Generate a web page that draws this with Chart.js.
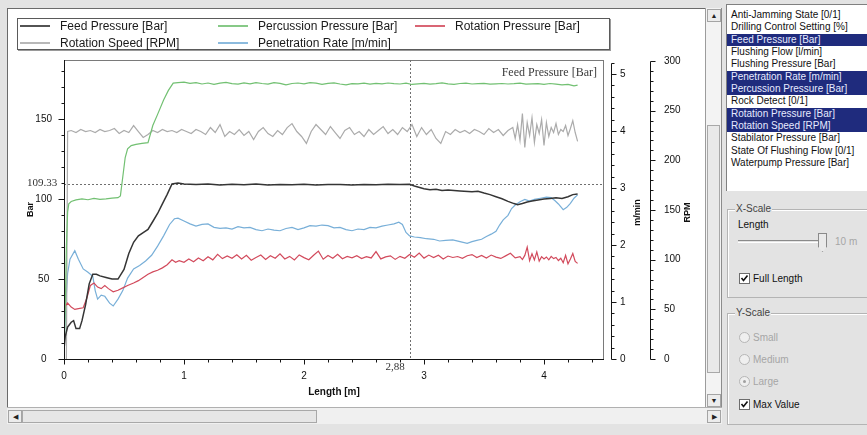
<!DOCTYPE html>
<html>
<head>
<meta charset="utf-8">
<script src="https://cdn.jsdelivr.net/npm/chart.js@4.4.1/dist/chart.umd.min.js"></script>
<style>
html,body{margin:0;padding:0}
body{width:867px;height:435px;background:#e3e3e3;position:relative;overflow:hidden;font-family:"Liberation Sans",Arial,sans-serif;color:#111}
#panel{position:absolute;left:7px;top:8px;width:698px;height:399px;background:#fff;border-left:1px solid #6a6a6a;border-top:1px solid #6a6a6a;box-sizing:border-box}
#c{position:absolute;left:0;top:0}
#legend{position:absolute;left:17px;top:18px;width:593px;height:32px;border:1px solid #5a5a5a;box-shadow:1px 1px 0 #9a9a9a;box-sizing:border-box;font-size:12px;color:#1a1a1a;background:#fff}
.lg{position:absolute;height:14px;line-height:14px;white-space:nowrap}
.lg i{position:absolute;left:0;top:6px;width:30px;height:2px;opacity:.85}
.lg span{position:absolute;left:40px;top:0}
.btn{position:absolute;width:14px;height:13px;background:#ececec;border:1px solid #a4a4a4;box-sizing:border-box;font-size:7px;line-height:11px;text-align:center;color:#222}
#vs{position:absolute;left:705px;top:8px;width:17px;height:399px;background:#f3f3f3;border-left:1px solid #9c9c9c;border-right:1px solid #8c8c8c;box-sizing:border-box}
#vthumb{position:absolute;left:1px;top:117px;width:13px;height:248px;background:#e9e9e9;border:1px solid #a8a8a8;box-sizing:border-box}
#hs{position:absolute;left:7px;top:407px;width:715px;height:17px;background:#f0f0f0;border-top:1px solid #b0b0b0;box-sizing:border-box}
#hthumb{position:absolute;left:15px;top:2px;width:295px;height:13px;background:#e6e6e6;border:1px solid #a8a8a8;box-sizing:border-box}
#list{position:absolute;left:726px;top:4px;width:141px;height:187px;background:#fff;border-left:1px solid #808080;border-top:1px solid #808080;box-sizing:border-box;padding-top:4px;font-size:10px}
.li{height:12.33px;line-height:12px;padding-left:4px;white-space:nowrap;color:#111}
.li.on{background:#1f2b7d;color:#e6eaff}
.grp{position:absolute;left:727px;width:150px;border:1px solid #b4b4b4;box-shadow:inset 1px 1px 0 #fff;box-sizing:border-box}
.grp .t{position:absolute;left:7px;top:-7px;background:#e3e3e3;padding:0 1px;font-size:10px;line-height:12px;color:#444}
.lab{position:absolute;font-size:10px;line-height:12px;white-space:nowrap}
.box{position:absolute;width:11px;height:11px;background:#fff;border:1px solid #6d6d6d;box-sizing:border-box}
.rad{position:absolute;width:11px;height:11px;border-radius:50%;background:#efefef;border:1px solid #b6b6b6;box-sizing:border-box}
.dis{color:#a6a6a6}
</style>
</head>
<body>
<div id="panel"></div>
<canvas id="c" width="705" height="407"></canvas>
<div id="legend"></div>

<div id="vs">
  <div class="btn" style="left:1px;top:1px">&#9650;</div>
  <div id="vthumb"></div>
  <div class="btn" style="left:1px;top:386px">&#9660;</div>
</div>
<div id="hs">
  <div class="btn" style="left:1px;top:2px">&#9664;</div>
  <div id="hthumb"></div>
  <div class="btn" style="left:700px;top:2px">&#9654;</div>
</div>

<div id="list">
  <div class="li">Anti-Jamming State [0/1]</div>
  <div class="li">Drilling Control Setting [%]</div>
  <div class="li on">Feed Pressure [Bar]</div>
  <div class="li">Flushing Flow [l/min]</div>
  <div class="li">Flushing Pressure [Bar]</div>
  <div class="li on">Penetration Rate [m/min]</div>
  <div class="li on">Percussion Pressure [Bar]</div>
  <div class="li">Rock Detect [0/1]</div>
  <div class="li on">Rotation Pressure [Bar]</div>
  <div class="li on">Rotation Speed [RPM]</div>
  <div class="li">Stabilator Pressure [Bar]</div>
  <div class="li">State Of Flushing Flow [0/1]</div>
  <div class="li">Waterpump Pressure [Bar]</div>
</div>

<div class="grp" style="top:209px;height:89px"><div class="t">X-Scale</div></div>
<div class="lab" style="left:738px;top:219px">Length</div>
<div style="position:absolute;left:738px;top:240px;width:84px;height:1px;border-top:1px solid #8a8a8a;border-bottom:1px solid #fff"></div>
<div style="position:absolute;left:818px;top:233px;width:9px;height:19px;background:#eaeaea;border:1px solid #8a8a8a;box-sizing:border-box;clip-path:polygon(0 0,100% 0,100% 72%,50% 100%,0 72%)"></div>
<div class="lab dis" style="left:835px;top:236px">10 m</div>
<div class="box" style="left:739px;top:273px"><svg width="9" height="9" style="position:absolute;left:0;top:0"><path d="M1.5 4 L3.5 6.5 L7.5 1.5" stroke="#111" stroke-width="1.6" fill="none"/></svg></div>
<div class="lab" style="left:753px;top:273px">Full Length</div>

<div class="grp" style="top:313px;height:112px"><div class="t">Y-Scale</div></div>
<div class="rad" style="left:739px;top:332px"></div>
<div class="lab dis" style="left:753px;top:332px">Small</div>
<div class="rad" style="left:739px;top:354px"></div>
<div class="lab dis" style="left:753px;top:354px">Medium</div>
<div class="rad" style="left:739px;top:376px"><div style="position:absolute;left:3px;top:3px;width:3px;height:3px;border-radius:50%;background:#a0a0a0"></div></div>
<div class="lab dis" style="left:753px;top:376px">Large</div>
<div class="box" style="left:739px;top:399px"><svg width="9" height="9" style="position:absolute;left:0;top:0"><path d="M1.5 4 L3.5 6.5 L7.5 1.5" stroke="#111" stroke-width="1.6" fill="none"/></svg></div>
<div class="lab" style="left:753px;top:399px">Max Value</div>

<script>
// ---- Drill log channels, sampled along hole length [m] ----
const feedLength = [0,0.01,0.03,0.06,0.08,0.10,0.13,0.15,0.18,0.21,0.24,0.27,0.30,0.35,0.40,0.45,0.50,0.54,0.58,0.62,0.66,0.70,0.74,0.78,0.82,0.86,0.90,0.95,1.0,1.1,1.2,1.3,1.4,1.5,1.6,1.7,1.8,1.9,2.0,2.1,2.2,2.3,2.4,2.5,2.6,2.7,2.8,2.88,2.92,3.0,3.05,3.1,3.15,3.2,3.3,3.4,3.45,3.5,3.55,3.6,3.65,3.7,3.75,3.78,3.82,3.86,3.9,3.95,4.0,4.05,4.1,4.15,4.2,4.24,4.28];
const feedPressure = [6,14,20,23,24,19,19,24,34,47,53,53,52,51,50,50,56,66,73,77,79,81,86,91,97,103,109.5,110,109.4,109.1,109.5,108.9,109.3,109.0,109.4,108.8,109.2,109.0,109.3,108.9,109.2,109.1,108.8,109.2,109.0,109.3,109.1,109.33,108.2,106.5,105.8,106.2,105.4,105.7,105.1,104.6,104.9,103.8,102.8,101.5,100.2,98.6,97.2,96.5,97.3,98.2,98.8,99.5,100.0,100.4,100.8,100.4,101.5,102.8,103.2];

const percLength = [0,0.01,0.02,0.03,0.04,0.06,0.10,0.15,0.20,0.25,0.30,0.35,0.40,0.45,0.47,0.49,0.51,0.53,0.56,0.60,0.65,0.70,0.74,0.78,0.83,0.87,0.91,0.95,
  1.00,1.05,1.10,1.15,1.20,1.25,1.30,1.35,1.40,1.45,1.50,1.55,1.60,1.65,1.70,1.75,1.80,1.85,1.90,1.95,2.00,2.05,2.10,2.15,2.20,2.25,2.30,2.35,2.40,2.45,2.50,2.55,2.60,2.65,2.70,2.75,2.80,2.85,2.90,2.95,3.00,3.05,3.10,3.15,3.20,3.25,3.30,3.35,3.40,3.45,3.50,3.55,3.60,3.65,3.70,3.75,3.80,3.85,3.90,3.95,4.00,4.05,4.10,4.15,4.20,4.25,4.28];
const percPressure = [0,30,70,92,97,98.5,99.5,100.2,99.6,100.4,99.8,100.1,100.6,100.9,102,114,126,131.5,133.5,134.2,134.8,135.3,146,153,162,168,172.5,172.8,
  173.1,172.4,172.9,172.0,172.6,171.8,172.5,173.0,172.2,171.9,172.7,172.1,172.9,172.3,171.9,172.8,172.4,171.5,172.3,172.6,172.1,172.9,172.5,171.8,172.4,172.7,172.0,171.4,172.2,172.1,172.5,171.9,172.4,172.1,172.6,172.2,172.0,172.5,171.7,172.1,172.4,171.9,172.2,172.7,172.1,171.8,172.3,172.5,172.0,172.2,172.4,171.9,172.1,172.3,172.0,172.2,172.5,171.9,172.1,172.2,171.8,172.3,171.9,171.4,171.8,170.8,171.3];

const rotPLength = [0,0.01,0.03,0.06,0.09,0.12,0.16,0.19,0.22,0.25,0.28,0.31,0.34,0.37,0.41,0.45,0.49,0.53,0.58,0.62,0.66,0.70,0.74,0.78,0.82,0.86,0.90,0.93,0.96,1.00,
  1.04,1.08,1.12,1.16,1.20,1.24,1.28,1.32,1.36,1.40,1.44,1.48,1.52,1.56,1.60,1.64,1.68,1.72,1.76,1.80,1.84,1.88,1.92,1.96,2.00,2.04,2.08,2.12,2.16,2.20,
  2.24,2.28,2.32,2.36,2.40,2.44,2.48,2.52,2.56,2.60,2.64,2.68,2.72,2.76,2.80,2.84,2.88,2.92,2.96,3.00,3.04,3.08,3.12,3.16,3.20,3.24,3.28,3.32,3.36,3.40,
  3.44,3.48,3.52,3.56,3.60,3.64,3.68,3.72,3.76,3.80,
  3.82,3.84,3.86,3.88,3.90,3.92,3.94,3.96,3.98,4.00,4.02,4.04,4.06,4.08,4.10,4.12,4.14,4.16,4.18,4.20,4.22,4.24,4.26,4.28];
const rotPressure = [28,33,35,32.5,31,31.5,32,38,46,47.5,45,44,46,44,42,43,44.5,46,47.5,49,51,53,54.5,55.5,57,59,62,60.5,61.5,60.5,
  62.5,60.8,63.2,61.5,64.0,62.0,65.5,62.8,64.5,63.0,65.2,62.5,64.8,61.8,63.5,65.0,62.2,64.6,63.0,65.8,62.6,64.2,61.9,65.1,63.4,62.1,64.9,67.5,62.4,64.7,
  63.0,65.5,62.7,64.1,63.3,64.6,62.8,64.0,63.2,67.2,62.6,63.9,64.5,62.3,64.2,63.0,65.4,63.6,66.2,63.1,65.0,63.4,64.9,62.6,64.4,63.5,64.1,63.0,64.6,65.3,
  63.4,64.8,63.1,65.0,63.7,62.9,64.5,66.1,63.2,64.0,
  62.2,64.8,70.0,61.5,65.8,62.0,67.0,61.2,64.0,62.6,63.8,62.0,64.2,62.8,63.5,61.6,63.0,60.2,64.8,59.5,62.5,66.0,61.0,59.8];

const rotSLength = [0.02,0.03,
  0.06,0.10,0.14,0.18,0.22,0.26,0.30,0.34,0.38,0.42,0.46,0.50,0.54,0.58,0.62,0.66,0.70,0.74,0.78,0.82,0.86,0.90,0.94,0.98,1.02,1.06,1.10,1.14,1.18,1.22,
  1.26,1.30,1.34,1.38,1.42,1.46,1.50,1.54,1.58,1.62,1.66,1.70,1.74,1.78,1.82,1.86,1.90,1.94,1.98,2.02,2.06,2.10,2.14,2.18,2.22,2.26,2.30,2.34,2.38,2.42,
  2.46,2.50,2.54,2.58,2.62,2.66,2.70,2.74,2.78,2.82,2.86,2.90,2.94,2.98,3.02,3.06,3.10,3.14,3.18,3.22,3.26,3.30,3.34,3.38,3.42,3.46,3.50,3.54,3.58,3.62,
  3.66,3.70,3.74,
  3.76,3.78,3.80,3.82,3.84,3.86,3.88,3.90,3.92,3.94,3.96,3.98,4.00,4.02,4.04,4.06,4.08,4.10,4.12,4.14,4.16,4.18,4.20,4.22,4.24,4.26,4.28];
const rotSpeed = [0,229,
  230,228,231,229,230,228,231,229,230,232,227,230,228,235,229,223,226,230,228,231,229,230,228,231,229,227,231,229,226,233,
  228,236,224,229,226,231,225,229,221,229,233,227,224,230,226,233,237,229,224,217,229,236,231,226,234,228,222,230,233,226,
  229,224,231,226,230,234,227,231,226,233,229,236,224,233,226,231,222,217,229,226,231,228,230,227,231,229,226,232,228,231,
  225,230,233,
  222,236,220,247,213,238,225,243,218,236,227,241,215,238,224,233,228,237,226,231,229,235,225,232,240,228,219];

const penLength = [0,0.01,0.03,0.05,0.09,0.12,0.16,0.20,0.24,0.26,0.28,0.31,0.34,0.38,0.41,0.45,0.49,0.53,0.58,0.63,0.68,0.73,0.78,0.83,0.88,0.92,0.95,
  1.00,1.05,1.10,1.15,1.20,1.25,1.30,1.35,1.40,1.45,1.50,1.55,1.60,1.65,1.70,1.75,1.80,1.85,1.90,1.95,2.00,2.05,2.10,2.15,2.20,2.25,2.30,2.35,2.40,2.45,
  2.50,2.55,2.60,2.65,2.70,2.75,2.79,2.82,2.85,2.88,2.92,2.97,3.02,3.08,3.13,3.18,3.24,3.30,3.36,3.40,3.44,3.48,3.52,3.56,3.60,3.63,3.66,3.70,3.73,3.76,
  3.80,3.84,3.88,3.92,3.97,4.02,4.06,4.09,4.12,4.16,4.19,4.22,4.25,4.28];
const penRate = [0.1,0.8,1.5,1.75,1.9,1.75,1.58,1.52,1.45,1.2,1.05,1.12,1.1,0.98,0.93,1.05,1.2,1.42,1.58,1.64,1.72,1.82,1.98,2.16,2.36,2.46,2.47,
  2.42,2.37,2.33,2.36,2.37,2.31,2.29,2.30,2.28,2.32,2.30,2.31,2.27,2.25,2.28,2.26,2.25,2.29,2.31,2.27,2.30,2.34,2.33,2.35,2.34,2.30,2.31,2.27,2.25,2.28,
  2.27,2.31,2.30,2.33,2.35,2.37,2.40,2.36,2.22,2.16,2.14,2.13,2.11,2.10,2.07,2.08,2.09,2.06,2.03,2.06,2.08,2.10,2.15,2.19,2.24,2.35,2.44,2.52,2.64,2.70,
  2.76,2.80,2.77,2.80,2.82,2.84,2.83,2.78,2.72,2.62,2.66,2.73,2.82,2.88];

// cursor position read-out
const cursorLength = 2.88;
const cursorBar = 109.33;

// axis labels (major ticks)
const lengthLabels = [0, 1, 2, 3, 4];
const barLabels = [0, 50, 100, 150];
const rateLabels = [0, 1, 2, 3, 4, 5];
const rpmLabels = [0, 50, 100, 150, 200, 250, 300];

const pts = (xs, ys) => xs.map((x, i) => ({x, y: ys[i]}));
const series = [
  {label: 'Feed Pressure [Bar]',       color: '#353535', width: 1.5, axis: 'y',  data: pts(feedLength, feedPressure)},
  {label: 'Percussion Pressure [Bar]', color: '#72c072', width: 1.2, axis: 'y',  data: pts(percLength, percPressure)},
  {label: 'Rotation Pressure [Bar]',   color: '#d24a5c', width: 1.2, axis: 'y',  data: pts(rotPLength, rotPressure)},
  {label: 'Rotation Speed [RPM]',      color: '#ababab', width: 1.2, axis: 'y2', data: pts(rotSLength, rotSpeed)},
  {label: 'Penetration Rate [m/min]',  color: '#78afd8', width: 1.2, axis: 'y1', data: pts(penLength, penRate)}
];

// legend box: three columns, two rows
const legend = document.getElementById('legend');
series.forEach((s, i) => {
  const el = document.createElement('div');
  el.className = 'lg';
  el.style.left = [2, 200, 397][i % 3] + 'px';
  el.style.top = (i < 3 ? 0 : 17) + 'px';
  el.innerHTML = '<i style="background:' + s.color + '"></i><span>' + s.label + '</span>';
  legend.appendChild(el);
});

function tickRange(lo, hi, step) {
  const out = [];
  for (let i = 0; lo + i * step <= hi + 1e-9; i++) out.push(+(lo + i * step).toFixed(4));
  return out;
}
const useTicks = values => scale => { scale.ticks = values.map(v => ({value: v})); };
const labelOnly = labels => v => labels.includes(v) ? String(v) : '';

const FONT = '"Liberation Sans", Arial, sans-serif';
Chart.defaults.font.family = FONT;
Chart.defaults.font.size = 10;
Chart.defaults.color = '#111';

const noGrid = {display: false, drawTicks: false, tickLength: 0};

// frame, cursor cross, axis lines with major/minor tick marks, read-out texts
const plotDecor = {
  id: 'plotDecor',
  beforeDatasetsDraw(chart) {
    const {ctx, chartArea: a, scales} = chart;
    ctx.save();
    ctx.strokeStyle = '#7a7a7a';
    ctx.lineWidth = 1;
    ctx.strokeRect(a.left + 0.5, a.top + 0.5, a.right - a.left - 1, a.bottom - a.top);
    ctx.setLineDash([2, 2]);
    ctx.strokeStyle = '#6f6f6f';
    const cy = Math.round(scales.y.getPixelForValue(cursorBar)) + 0.5;
    ctx.beginPath(); ctx.moveTo(a.left, cy); ctx.lineTo(a.right, cy); ctx.stroke();
    const cx = Math.round(scales.x.getPixelForValue(cursorLength)) + 0.5;
    ctx.beginPath(); ctx.moveTo(cx, a.top); ctx.lineTo(cx, a.bottom); ctx.stroke();
    ctx.restore();
  },
  afterDraw(chart) {
    const {ctx, chartArea: a, scales} = chart;
    ctx.save();
    ctx.strokeStyle = '#151515';
    ctx.lineWidth = 1;
    const marks = (s, fn) => s.ticks.forEach(t =>
      fn(Math.round(s.getPixelForValue(t.value)) + 0.5, t.label !== ''));
    ctx.beginPath();
    const xl = a.left + 0.5;
    ctx.moveTo(xl, a.top); ctx.lineTo(xl, a.bottom + 4);
    marks(scales.y, (p, major) => { ctx.moveTo(xl, p); ctx.lineTo(xl - (major ? 6 : 3), p); });
    const yb = a.bottom + 0.5;
    ctx.moveTo(a.left - 4, yb); ctx.lineTo(a.right, yb);
    marks(scales.x, (p, major) => { ctx.moveTo(p, yb); ctx.lineTo(p, yb + (major ? 5 : 3)); });
    [[scales.y1, 7], [scales.y2, 10]].forEach(([s, off]) => {
      const xr = s.left + off + 0.5;
      const top = Math.round(s.getPixelForValue(s.ticks[s.ticks.length - 1].value)) + 0.5;
      ctx.moveTo(xr, top); ctx.lineTo(xr, a.bottom + 0.5);
      marks(s, (p, major) => { ctx.moveTo(xr, p); ctx.lineTo(xr + (major ? 5 : 3), p); });
    });
    ctx.stroke();

    // right-hand axis titles, reading bottom to top
    ctx.fillStyle = '#111';
    ctx.font = 'bold 9px ' + FONT;
    ctx.textAlign = 'center';
    ctx.textBaseline = 'middle';
    const mid = (a.top + a.bottom) / 2;
    [[scales.y1, 34, 'm/min'], [scales.y2, 48, 'RPM']].forEach(([s, off, txt]) => {
      ctx.save();
      ctx.translate(s.left + off, mid + 3);
      ctx.rotate(-Math.PI / 2);
      ctx.fillText(txt, 0, 0);
      ctx.restore();
    });

    // cursor read-outs and active channel name
    const serif = '"Liberation Serif", "Times New Roman", serif';
    ctx.fillStyle = '#333';
    ctx.font = '11px ' + serif;
    const cy = Math.round(scales.y.getPixelForValue(cursorBar));
    ctx.fillText(cursorBar.toFixed(2), 42, cy - 1);
    const cx = Math.round(scales.x.getPixelForValue(cursorLength));
    ctx.fillText(cursorLength.toFixed(2).replace('.', ','), cx - 15, a.bottom + 8);
    ctx.font = '12px ' + serif;
    ctx.textAlign = 'right';
    ctx.fillStyle = '#3a3a3a';
    ctx.fillText(series[0].label, a.right - 7, a.top + 13);
    ctx.restore();
  }
};

new Chart(document.getElementById('c'), {
  type: 'line',
  data: {
    datasets: series.map(s => ({
      label: s.label,
      data: s.data,
      yAxisID: s.axis,
      borderColor: s.color,
      borderWidth: s.width,
      pointRadius: 0,
      tension: 0,
      fill: false
    }))
  },
  options: {
    responsive: false,
    animation: false,
    events: [],
    layout: {padding: {top: 60, left: 0, right: 0, bottom: 0}},
    plugins: {legend: {display: false}, tooltip: {enabled: false}},
    scales: {
      x: {
        type: 'linear', position: 'bottom', min: 0, max: 4.5,
        afterFit: s => { s.height = 48; },
        afterBuildTicks: useTicks(tickRange(0, 4.4, 0.2)),
        grid: noGrid, border: {display: false},
        ticks: {autoSkip: false, maxRotation: 0, minRotation: 0, padding: 11, callback: labelOnly(lengthLabels)},
        title: {display: true, text: 'Length [m]', font: {size: 10, weight: 'bold'}, padding: {top: 0, bottom: 9}}
      },
      y: {
        type: 'linear', position: 'left', min: 0, max: 187,
        afterFit: s => { s.width = 64; },
        afterBuildTicks: useTicks(tickRange(0, 180, 10)),
        grid: noGrid, border: {display: false},
        ticks: {autoSkip: false, crossAlign: 'center', padding: 12, callback: labelOnly(barLabels)},
        title: {display: true, text: 'Bar', font: {size: 9, weight: 'bold'}, padding: {top: 25, bottom: 0}}
      },
      y1: {
        type: 'linear', position: 'right', weight: 0, min: 0, max: 5.245,
        afterFit: s => { s.width = 36; },
        afterBuildTicks: useTicks(tickRange(0, 5.2, 0.2)),
        grid: noGrid, border: {display: false},
        ticks: {autoSkip: false, padding: 16, callback: labelOnly(rateLabels)}
      },
      y2: {
        type: 'linear', position: 'right', weight: 1, min: 0, max: 301,
        afterFit: s => { s.width = 65; },
        afterBuildTicks: useTicks(tickRange(0, 300, 10)),
        grid: noGrid, border: {display: false},
        ticks: {autoSkip: false, padding: 24, callback: labelOnly(rpmLabels)}
      }
    }
  },
  plugins: [plotDecor]
});
</script>
</body>
</html>
